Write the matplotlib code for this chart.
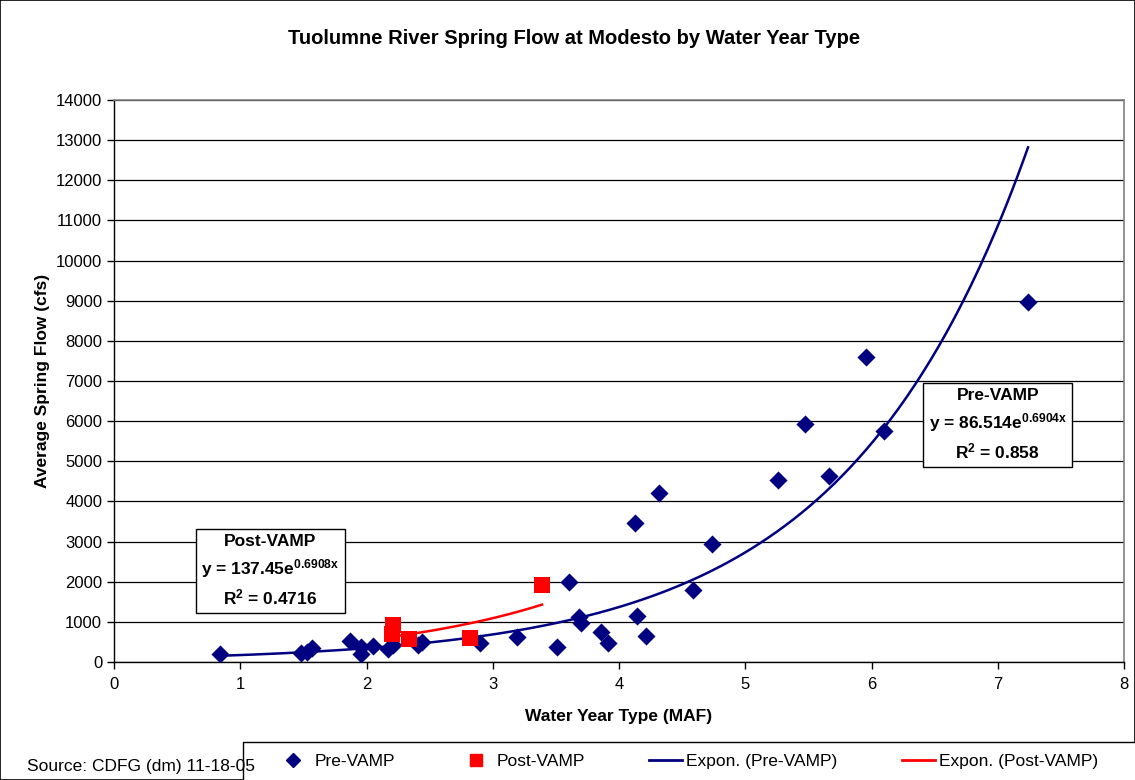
import numpy as np
import matplotlib
matplotlib.use("Agg")
import matplotlib.pyplot as plt
from matplotlib.patches import Rectangle
from matplotlib.lines import Line2D

plt.rcParams['font.family'] = ['Liberation Sans', 'DejaVu Sans']
plt.rcParams['mathtext.fontset'] = 'custom'
plt.rcParams['mathtext.rm'] = 'Liberation Sans:bold'
plt.rcParams['mathtext.bf'] = 'Liberation Sans:bold'
plt.rcParams['mathtext.it'] = 'Liberation Sans:bold'

# ---- data ----
pre_x = [0.84, 1.48, 1.53, 1.57, 1.87, 1.96, 1.96, 2.05, 2.17, 2.21, 2.41, 2.44,
         2.90, 3.19, 3.51, 3.60, 3.68, 3.70, 3.86, 3.91, 4.13, 4.14, 4.21, 4.32,
         4.59, 4.74, 5.26, 5.47, 5.66, 5.96, 6.10, 7.24]
pre_y = [190, 230, 250, 340, 530, 366, 200, 400, 316, 424, 424, 506,
         466, 630, 382, 1987, 1115, 965, 756, 481, 3459, 1147, 648, 4207,
         1796, 2943, 4539, 5927, 4621, 7589, 5760, 8960]
post_x = [2.21, 2.20, 2.34, 2.82, 3.39]
post_y = [922, 690, 573, 590, 1920]

# trendline coefficients shown on the chart
pre_a, pre_b = 86.514, 0.6904
post_a, post_b = 137.45, 0.6908
pre_r2 = "0.858"
post_r2 = "0.4716"

title = "Tuolumne River Spring Flow at Modesto by Water Year Type"
xlabel = "Water Year Type (MAF)"
ylabel = "Average Spring Flow (cfs)"
xticks = list(range(0, 9))
yticks = list(range(0, 14001, 1000))
source = "Source: CDFG (dm) 11-18-05"

NAVY = "#000080"
RED = "#FF0000"

W, H = 1135, 780
fig = plt.figure(figsize=(W / 100, H / 100), dpi=100)
fig.patch.set_facecolor("white")
fig.patches.append(Rectangle((0, 0), 1, 1, transform=fig.transFigure, fill=False,
                             edgecolor="black", linewidth=1.2))

L, R, T, B = 114, 1124, 100, 662
ax = fig.add_axes([L / W, 1 - B / H, (R - L) / W, (B - T) / H])
ax.set_xlim(0, 8)
ax.set_ylim(0, 14000)
ax.set_xticks(xticks)
ax.set_yticks(yticks)
ax.tick_params(axis="both", labelsize=12, direction="out", length=5, width=1, color="black")
ax.tick_params(axis="x", pad=6)
ax.yaxis.grid(True, color="black", linewidth=0.9)
ax.set_axisbelow(True)
for s in ["left", "bottom"]:
    ax.spines[s].set_color("black")
    ax.spines[s].set_linewidth(1.0)
for s in ["top", "right"]:
    ax.spines[s].set_color("#808080")
    ax.spines[s].set_linewidth(1.2)

# trendlines
xs_pre = np.linspace(min(pre_x), max(pre_x), 300)
ax.plot(xs_pre, pre_a * np.exp(pre_b * xs_pre), color=NAVY, lw=1.8, zorder=2)
xs_post = np.linspace(min(post_x), max(post_x), 100)
ax.plot(xs_post, post_a * np.exp(post_b * xs_post), color=RED, lw=1.8, zorder=2)

ax.scatter(pre_x, pre_y, marker="D", s=85, color=NAVY, zorder=3, linewidths=0)
ax.scatter(post_x, post_y, marker="s", s=120, color=RED, zorder=3, linewidths=0)

ax.set_xlabel(xlabel, fontsize=12.5, fontweight="bold", labelpad=12)
ax.set_ylabel(ylabel, fontsize=12.5, fontweight="bold", labelpad=4)
fig.text(574 / W, 1 - 38 / H, title, ha="center", va="center", fontsize=14.5, fontweight="bold")

# equation boxes
def eqbox(cx, cy, name, a, b, r2):
    txt = (name + "\n" + "y = " + a + "e$^{" + b + "x}$" + "\n" + "R$^2$ = " + r2)
    ax.text(cx, cy, txt, ha="center", va="center", fontsize=12.5, fontweight="bold",
            linespacing=1.45, transform=ax.transData, zorder=5,
            bbox=dict(boxstyle="square,pad=0.3", fc="white", ec="black", lw=1.0))

eqbox(1.24, 2270, "Post-VAMP", "137.45", "0.6908", post_r2)
eqbox(7.00, 5910, "Pre-VAMP", "86.514", "0.6904", pre_r2)

# legend frame
fig.patches.append(Rectangle((243 / W, -0.02), 1.0, 1 - 742 / H + 0.02,
                             transform=fig.transFigure, fc="white", ec="black", lw=1.0,
                             zorder=4))

# source text drawn on top of the legend frame edge, as in the reference
fig.text(27 / W, 1 - 767 / H, source, ha="left", va="center", fontsize=12.5, zorder=6)

# legend
handles = [
    Line2D([], [], marker="D", ls="none", color=NAVY, ms=7),
    Line2D([], [], marker="s", ls="none", color=RED, ms=9),
    Line2D([], [], color=NAVY, lw=2),
    Line2D([], [], color=RED, lw=2),
]
labels = ["Pre-VAMP", "Post-VAMP", "Expon. (Pre-VAMP)", "Expon. (Post-VAMP)"]
leg = fig.legend(handles, labels, loc="upper left",
                 bbox_to_anchor=(277 / W, 1 - 754 / H),
                 ncol=4, fontsize=12.5, frameon=False,
                 handlelength=1.9, handletextpad=0.25, columnspacing=3.7,
                 borderpad=0, borderaxespad=0)
leg.set_zorder(5)

fig.savefig("out.png", dpi=100)
